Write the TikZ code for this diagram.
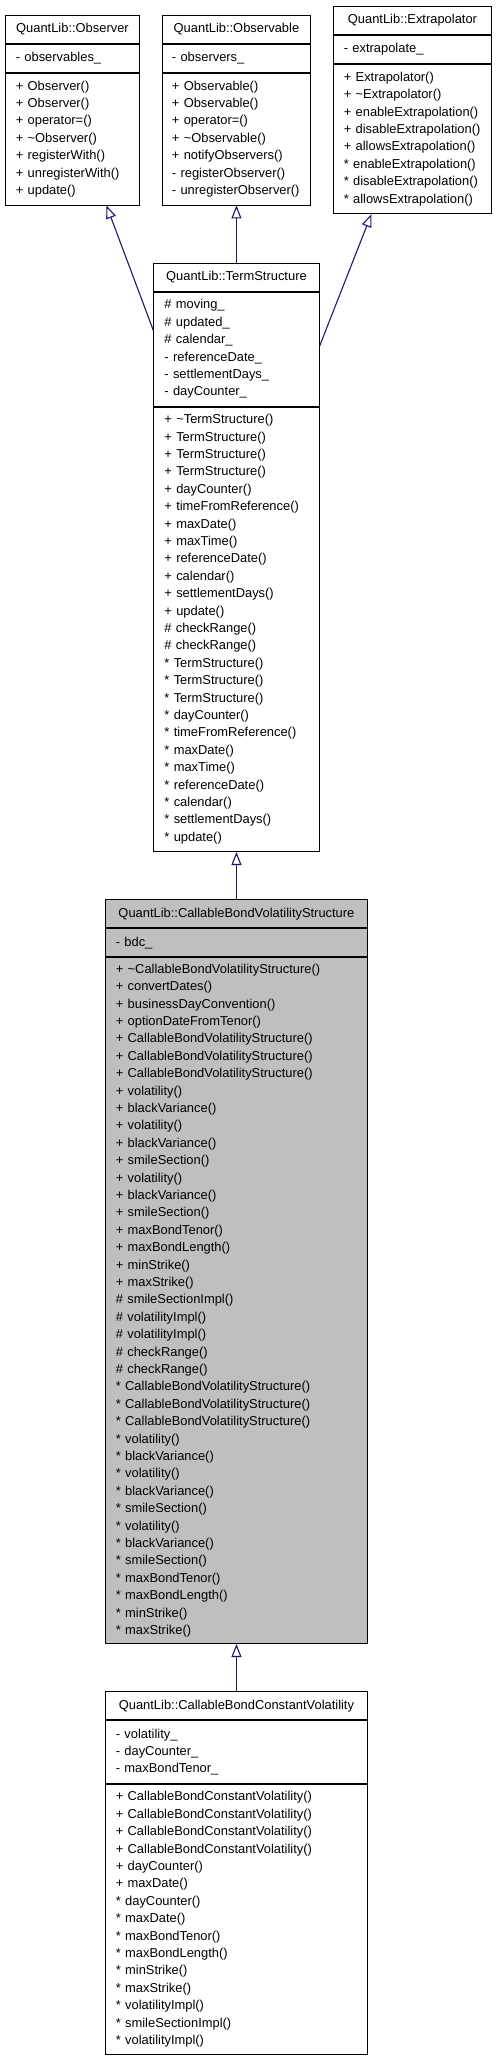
\documentclass[tikz,border=0pt]{standalone}
\usepackage{fontspec}
\setmainfont{Liberation Sans}
\usetikzlibrary{arrows.meta}
\definecolor{edgeblue}{HTML}{191970}
\definecolor{hilite}{HTML}{BFBFBF}
\tikzset{
  sect/.style={draw=black, line width=0.9pt, anchor=north west, inner xsep=10.7pt, inner ysep=0pt,
    align=left, font=\fontsize{12.9}{17.4}\selectfont},
  ttl/.style={sect, align=center},
  wA/.style={minimum width=134.6pt, text width=113.2pt},
  wB/.style={minimum width=148pt, text width=129pt, inner xsep=9.5pt},
  wC/.style={minimum width=158.6pt, text width=137.2pt},
  wD/.style={minimum width=165.4pt, text width=144pt},
  wE/.style={minimum width=262.6pt, text width=241.2pt},
  inh/.style={draw=edgeblue, line width=1.1pt, -{Triangle[open, length=13pt, width=10pt]}}
}
\begin{document}
\begin{tikzpicture}[x=1pt, y=-1pt]
\useasboundingbox (0,0) rectangle (496,2059);
% Observer
\node[ttl, wA, minimum height=28pt] (obs_t) at (4.7,14.7) {QuantLib::Observer};
\node[sect, wA, minimum height=28pt] (obs_a) at (obs_t.south west) {- observables\_};
\node[sect, wA, minimum height=132pt] (obs_m) at (obs_a.south west) {+ Observer()\\+ Observer()\\+ operator=()\\+ \textasciitilde Observer()\\+ registerWith()\\+ unregisterWith()\\+ update()};
% Observable
\node[ttl, wB, minimum height=28pt] (obsv_t) at (162,14.7) {QuantLib::Observable};
\node[sect, wB, minimum height=28pt] (obsv_a) at (obsv_t.south west) {- observers\_};
\node[sect, wB, minimum height=132pt] (obsv_m) at (obsv_a.south west) {+ Observable()\\+ Observable()\\+ operator=()\\+ \textasciitilde Observable()\\+ notifyObservers()\\- registerObserver()\\- unregisterObserver()};
% Extrapolator
\node[ttl, wC, minimum height=28pt] (ext_t) at (332.7,6) {QuantLib::Extrapolator};
\node[sect, wC, minimum height=28pt] (ext_a) at (ext_t.south west) {- extrapolate\_};
\node[sect, wC, minimum height=149.3pt] (ext_m) at (ext_a.south west) {+ Extrapolator()\\+ \textasciitilde Extrapolator()\\+ enableExtrapolation()\\+ disableExtrapolation()\\+ allowsExtrapolation()\\{*} enableExtrapolation()\\{*} disableExtrapolation()\\{*} allowsExtrapolation()};
% TermStructure
\node[ttl, wD, minimum height=28pt] (ts_t) at (153.3,262.7) {QuantLib::TermStructure};
\node[sect, wD, minimum height=114pt] (ts_a) at (ts_t.south west) {\# moving\_\\\# updated\_\\\# calendar\_\\- referenceDate\_\\- settlementDays\_\\- dayCounter\_};
\node[sect, wD, minimum height=444.6pt] (ts_m) at (ts_a.south west) {+ \textasciitilde TermStructure()\\+ TermStructure()\\+ TermStructure()\\+ TermStructure()\\+ dayCounter()\\+ timeFromReference()\\+ maxDate()\\+ maxTime()\\+ referenceDate()\\+ calendar()\\+ settlementDays()\\+ update()\\\# checkRange()\\\# checkRange()\\{*} TermStructure()\\{*} TermStructure()\\{*} TermStructure()\\{*} dayCounter()\\{*} timeFromReference()\\{*} maxDate()\\{*} maxTime()\\{*} referenceDate()\\{*} calendar()\\{*} settlementDays()\\{*} update()};
% CallableBondVolatilityStructure
\node[ttl, wE, fill=hilite, minimum height=28pt] (cbvs_t) at (104.7,899.3) {QuantLib::CallableBondVolatilityStructure};
\node[sect, wE, fill=hilite, minimum height=28pt] (cbvs_a) at (cbvs_t.south west) {- bdc\_};
\node[sect, wE, fill=hilite, minimum height=686pt] (cbvs_m) at (cbvs_a.south west) {+ \textasciitilde CallableBondVolatilityStructure()\\+ convertDates()\\+ businessDayConvention()\\+ optionDateFromTenor()\\+ CallableBondVolatilityStructure()\\+ CallableBondVolatilityStructure()\\+ CallableBondVolatilityStructure()\\+ volatility()\\+ blackVariance()\\+ volatility()\\+ blackVariance()\\+ smileSection()\\+ volatility()\\+ blackVariance()\\+ smileSection()\\+ maxBondTenor()\\+ maxBondLength()\\+ minStrike()\\+ maxStrike()\\\# smileSectionImpl()\\\# volatilityImpl()\\\# volatilityImpl()\\\# checkRange()\\\# checkRange()\\{*} CallableBondVolatilityStructure()\\{*} CallableBondVolatilityStructure()\\{*} CallableBondVolatilityStructure()\\{*} volatility()\\{*} blackVariance()\\{*} volatility()\\{*} blackVariance()\\{*} smileSection()\\{*} volatility()\\{*} blackVariance()\\{*} smileSection()\\{*} maxBondTenor()\\{*} maxBondLength()\\{*} minStrike()\\{*} maxStrike()};
% CallableBondConstantVolatility
\node[ttl, wE, minimum height=28pt] (cbcv_t) at (104.7,1691.3) {QuantLib::CallableBondConstantVolatility};
\node[sect, wE, minimum height=62.7pt] (cbcv_a) at (cbcv_t.south west) {- volatility\_\\- dayCounter\_\\- maxBondTenor\_};
\node[sect, wE, minimum height=270pt] (cbcv_m) at (cbcv_a.south west) {+ CallableBondConstantVolatility()\\+ CallableBondConstantVolatility()\\+ CallableBondConstantVolatility()\\+ CallableBondConstantVolatility()\\+ dayCounter()\\+ maxDate()\\{*} dayCounter()\\{*} maxDate()\\{*} maxBondTenor()\\{*} maxBondLength()\\{*} minStrike()\\{*} maxStrike()\\{*} volatilityImpl()\\{*} smileSectionImpl()\\{*} volatilityImpl()};
% inheritance edges
\draw[inh] ([yshift=18.7pt]ts_a.west) -- ([xshift=34pt]obs_m.south);
\draw[inh] (ts_t.north) -- (obsv_m.south);
\draw[inh] ([yshift=3pt]ts_a.east) -- ([xshift=-41pt]ext_m.south);
\draw[inh] (cbvs_t.north) -- (ts_m.south);
\draw[inh] (cbcv_t.north) -- (cbvs_m.south);
\end{tikzpicture}
\end{document}
